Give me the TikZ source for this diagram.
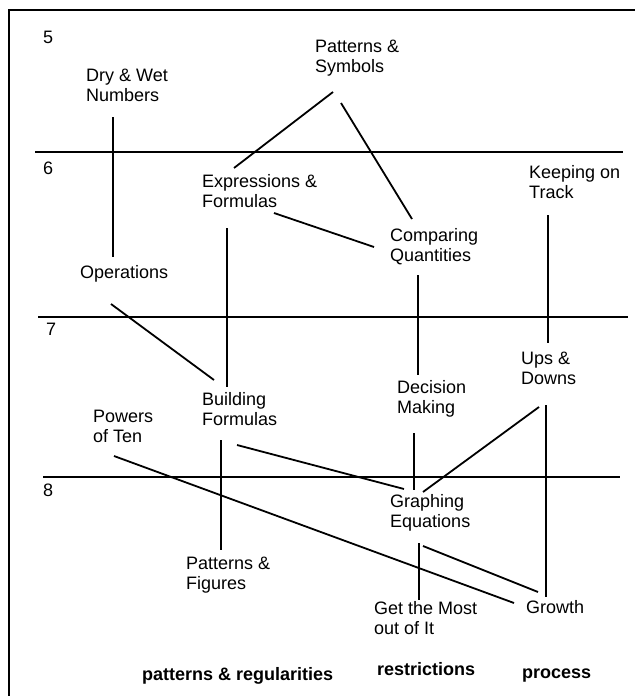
\documentclass[tikz,border=0pt]{standalone}
\usepackage{fontspec}
\setmainfont{Liberation Sans}
\usepackage{tikz}
\usetikzlibrary{positioning}
\usepackage{xcolor}
\definecolor{mcInk}{HTML}{000000}

\begin{document}
\begin{tikzpicture}[x=1pt, y=-1pt,
  tpc/.style={anchor=base west, inner sep=0pt, align=left, font=\fontsize{18}{20}\selectfont, text=mcInk},
  grd/.style={anchor=base west, inner sep=0pt, font=\fontsize{18}{20}\selectfont, text=mcInk},
  strand/.style={anchor=base west, inner sep=0pt, font=\fontsize{18}{20}\selectfont\bfseries, text=mcInk},
  lnk/.style={line width=1.8pt, mcInk},
  gline/.style={line width=1.8pt, mcInk},
  frm/.style={line width=2.4pt, mcInk}]
\useasboundingbox (0,0) rectangle (635,696);
\draw[frm] (9,696) -- (9,10) -- (635,10);

% ── grade bands 5 to 8 ──
\foreach \y/\a/\b in {152/35/623, 317/38/628, 477/43/620}{\draw[gline] (\a,\y) -- (\b,\y);}
\node[grd] (g5) at (43,43)  {5};
\node[grd] (g6) at (43,174) {6};
\node[grd] (g7) at (46,335) {7};
\node[grd] (g8) at (43,496) {8};

% ── units (two-line nodes sit on the baseline of their last line) ──
\node[tpc] (dry)   at (86,101)  {Dry \& Wet\\Numbers};
\node[tpc] (sym)   at (315,72)  {Patterns \&\\Symbols};
\node[tpc] (expr)  at (202,207) {Expressions \&\\Formulas};
\node[tpc] (comp)  at (390,261) {Comparing\\Quantities};
\node[tpc] (keep)  at (529,198) {Keeping on\\Track};
\node[tpc] (ops)   at (80,278)  {Operations};
\node[tpc] (ups)   at (521,384) {Ups \&\\Downs};
\node[tpc] (dec)   at (397,413) {Decision\\Making};
\node[tpc] (build) at (202,425) {Building\\Formulas};
\node[tpc] (pow)   at (93,442)  {Powers\\of Ten};
\node[tpc] (graph) at (390,527) {Graphing\\Equations};
\node[tpc] (fig)   at (186,589) {Patterns \&\\Figures};
\node[tpc] (most)  at (374,634) {Get the Most\\out of It};
\node[tpc] (grow)  at (526,613) {Growth};

% ── strands ──
\node[strand] (pat)  at (142,680) {patterns \& regularities};
\node[strand] (res)  at (377,675) {restrictions};
\node[strand] (proc) at (522,678) {process};

% ── links between units ──
\draw[lnk] ([shift={(27,16)}]dry.base west)   -- ([shift={(33,-21)}]ops.base west);
\draw[lnk] ([shift={(18,20)}]sym.base west)   -- ([shift={(32,-39)}]expr.base west);
\draw[lnk] ([shift={(26,31)}]sym.base west)   -- ([shift={(22,-42)}]comp.base west);
\draw[lnk] ([shift={(72,6)}]expr.base west)   -- ([shift={(-16,-14)}]comp.base west);
\draw[lnk] ([shift={(25,21)}]expr.base west)  -- ([shift={(25,-38)}]build.base west);
\draw[lnk] ([shift={(31,26)}]ops.base west)   -- ([shift={(12,-45)}]build.base west);
\draw[lnk] ([shift={(28,14)}]comp.base west)  -- ([shift={(21,-38)}]dec.base west);
\draw[lnk] ([shift={(19,17)}]keep.base west)  -- ([shift={(27,-41)}]ups.base west);
\draw[lnk] ([shift={(17,20)}]dec.base west)   -- ([shift={(24,-37)}]graph.base west);
\draw[lnk] ([shift={(35,20)}]build.base west) -- ([shift={(14,-38)}]graph.base west);
\draw[lnk] ([shift={(18,23)}]ups.base west)   -- ([shift={(33,-35)}]graph.base west);
\draw[lnk] ([shift={(25,21)}]ups.base west)   -- ([shift={(20,-16)}]grow.base west);
\draw[lnk] ([shift={(19,15)}]build.base west) -- ([shift={(35,-39)}]fig.base west);
\draw[lnk] ([shift={(21,14)}]pow.base west)   -- ([shift={(-12,-10)}]grow.base west);
\draw[lnk] ([shift={(29,16)}]graph.base west) -- ([shift={(45,-34)}]most.base west);
\draw[lnk] ([shift={(33,19)}]graph.base west) -- ([shift={(12,-21)}]grow.base west);
\end{tikzpicture}
\end{document}
